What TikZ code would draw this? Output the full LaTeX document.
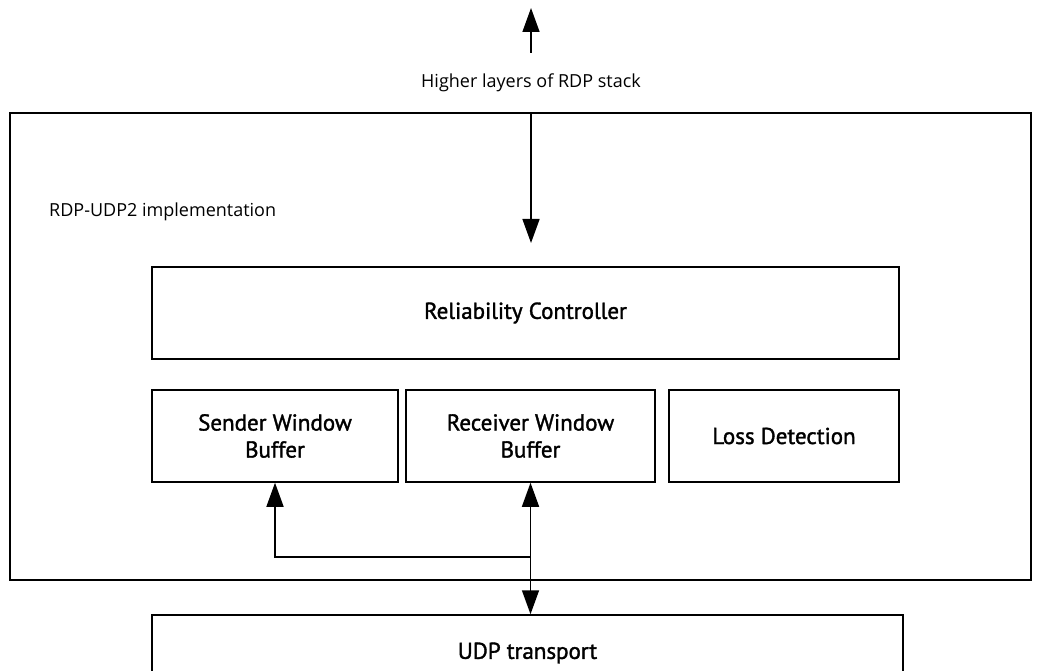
\documentclass[tikz,border=0pt]{standalone}
\usepackage{fontspec}
\setmainfont{Open Sans}
\newfontfamily\boxfont[FakeBold=1.5]{PT Sans}
\usetikzlibrary{arrows.meta}

\begin{document}
\begin{tikzpicture}[x=1pt, y=-1pt,
  boxStyle/.style={draw, line width=1.5pt, inner sep=0pt, align=center, font=\boxfont\fontsize{23}{27}\selectfont},
  textStyle/.style={inner sep=0pt, font=\fontsize{18}{21}\selectfont},
  arrowStyle/.style={line width=1.5pt, -{Triangle[length=24pt, width=17pt]}},
  bothStyle/.style={line width=1.5pt, {Triangle[length=24pt, width=17pt]}-{Triangle[length=24pt, width=17pt]}}
]
\clip (0, 0) rectangle (1041, 671);

\node [boxStyle, minimum width=1021pt, minimum height=467pt] (impl) at (520.5, 346.5) {};
\node [textStyle, anchor=base west] (implLabel) at (49, 217) {RDP-UDP2 implementation};
\node [textStyle, anchor=base] (higher) at (531, 88) {Higher layers of RDP stack};

\node [boxStyle, minimum width=747pt, minimum height=92pt] (rel)  at (525.5, 313) {Reliability Controller};
\node [boxStyle, minimum width=246pt, minimum height=92pt] (send) at (275, 436)   {Sender Window\\Buffer};
\node [boxStyle, minimum width=249pt, minimum height=92pt] (recv) at (530.5, 436) {Receiver Window\\Buffer};
\node [boxStyle, minimum width=230pt, minimum height=92pt] (loss) at (784, 436)   {Loss Detection};
\node [boxStyle, minimum width=751pt, minimum height=76pt] (udp)  at (527.5, 653) {UDP transport};

\coordinate (stackBase) at (531, 53);
\coordinate (stackTop)  at (531, 8);
\coordinate (relIn)     at (531, 243);
\coordinate (split)     at (530.5, 557);

\draw [arrowStyle] (stackBase) -- (stackTop);
\draw [arrowStyle] (impl.north -| relIn) -- (relIn);
\draw [bothStyle]  (recv.south) -- (udp.north -| recv.south);
\draw [arrowStyle] (split) -| (send.south);
\end{tikzpicture}
\end{document}
